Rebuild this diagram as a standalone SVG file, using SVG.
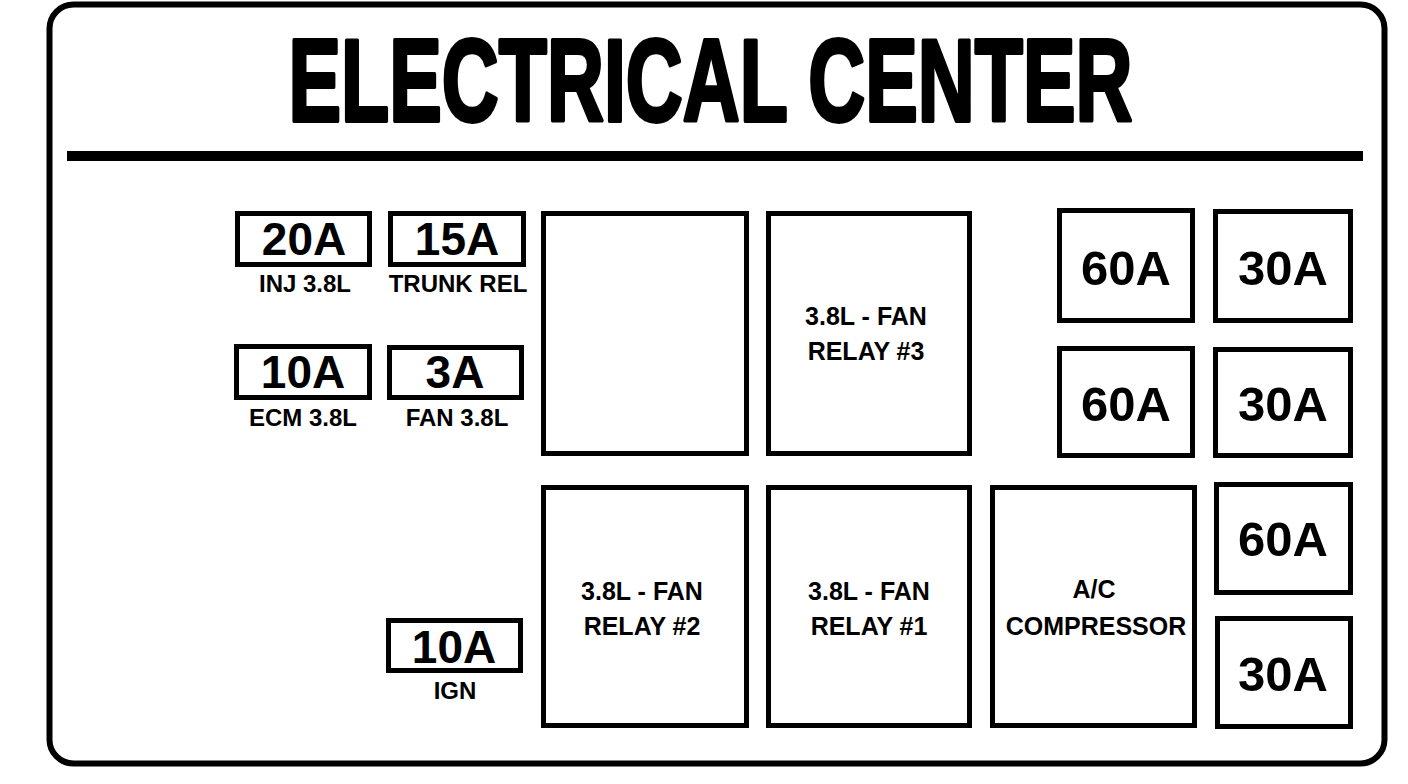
<svg xmlns="http://www.w3.org/2000/svg" width="1408" height="784" viewBox="0 0 1408 784">
<style>
.box{fill:#fff;stroke:#000;stroke-width:5}
.t{font-family:"Liberation Sans",Arial,sans-serif;font-weight:bold;fill:#000;text-anchor:middle}
.fs{font-size:46px}
.fl{font-size:49px}
.lb{font-size:24px}
.rl{font-size:25px}
</style>
<rect width="1408" height="784" fill="#fff"/>
<rect x="49.5" y="4.5" width="1335" height="759" rx="24" fill="none" stroke="#000" stroke-width="6"/>
<g id="title" transform="translate(710.5,121) scale(0.674,1)"><text class="t" x="0" y="0" font-size="117" stroke="#000" stroke-width="4" stroke-linejoin="round">ELECTRICAL CENTER</text></g>
<rect x="67" y="151" width="1296" height="10" fill="#000"/>

<g id="f-20a"><rect class="box" x="237.5" y="213.5" width="132" height="51"/><text class="t fs" x="304" y="255">20A</text><text class="t lb" x="305" y="292">INJ 3.8L</text></g>
<g id="f-15a"><rect class="box" x="390.5" y="213.5" width="133" height="51"/><text class="t fs" x="457" y="255">15A</text><text class="t lb" x="458" y="292">TRUNK REL</text></g>
<g id="f-10a-ecm"><rect class="box" x="236.5" y="346.5" width="133" height="51"/><text class="t fs" x="303" y="388">10A</text><text class="t lb" x="303" y="426">ECM 3.8L</text></g>
<g id="f-3a"><rect class="box" x="389.5" y="347.5" width="132" height="50"/><text class="t fs" x="455" y="388">3A</text><text class="t lb" x="457" y="426">FAN 3.8L</text></g>
<g id="f-10a-ign"><rect class="box" x="388.5" y="620.5" width="132" height="50"/><text class="t fs" x="454" y="663">10A</text><text class="t lb" x="455" y="699">IGN</text></g>

<g id="r-blank"><rect class="box" x="543.5" y="213.5" width="203" height="240"/></g>
<g id="r-fan3"><rect class="box" x="768.5" y="213.5" width="201" height="240"/><text class="t rl" x="866" y="325">3.8L - FAN</text><text class="t rl" x="866" y="360">RELAY #3</text></g>
<g id="r-fan2"><rect class="box" x="543.5" y="487.5" width="203" height="238"/><text class="t rl" x="642" y="600">3.8L - FAN</text><text class="t rl" x="642" y="635">RELAY #2</text></g>
<g id="r-fan1"><rect class="box" x="768.5" y="487.5" width="201" height="238"/><text class="t rl" x="869" y="600">3.8L - FAN</text><text class="t rl" x="869" y="635">RELAY #1</text></g>
<g id="r-ac"><rect class="box" x="992.5" y="487.5" width="202" height="238"/><text class="t rl" x="1094" y="598">A/C</text><text class="t rl" x="1096" y="635">COMPRESSOR</text></g>

<g id="m-60a-1"><rect class="box" x="1059.5" y="210.5" width="133" height="110"/><text class="t fl" x="1126" y="285">60A</text></g>
<g id="m-30a-1"><rect class="box" x="1215.5" y="211.5" width="135" height="109"/><text class="t fl" x="1283" y="285">30A</text></g>
<g id="m-60a-2"><rect class="box" x="1059.5" y="348.5" width="133" height="107"/><text class="t fl" x="1126" y="421">60A</text></g>
<g id="m-30a-2"><rect class="box" x="1215.5" y="349.5" width="135" height="106"/><text class="t fl" x="1283" y="421">30A</text></g>
<g id="m-60a-3"><rect class="box" x="1216.5" y="484.5" width="134" height="108"/><text class="t fl" x="1283" y="556">60A</text></g>
<g id="m-30a-4"><rect class="box" x="1217.5" y="618.5" width="133" height="108"/><text class="t fl" x="1283" y="691">30A</text></g>
<g id="connectors"/>
</svg>
